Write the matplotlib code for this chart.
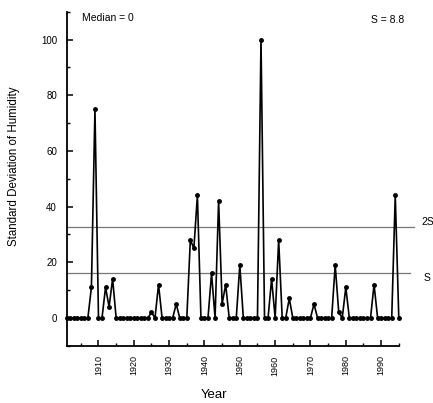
import numpy as np
import matplotlib
matplotlib.use("Agg")
import matplotlib.pyplot as plt
from matplotlib.ticker import MultipleLocator

plt.rcParams["font.family"] = ["Liberation Sans", "DejaVu Sans"]

# yearly standard deviation of humidity
years = np.arange(1901, 1996)
sd = [0, 0, 0, 0, 0, 0, 0, 11, 75, 0,          # 1901-1910
      0, 11, 4, 14, 0, 0, 0, 0, 0, 0,          # 1911-1920
      0, 0, 0, 0, 2, 0, 12, 0, 0, 0,           # 1921-1930
      0, 5, 0, 0, 0, 28, 25, 44, 0, 0,         # 1931-1940
      0, 16, 0, 42, 5, 12, 0, 0, 0, 19,        # 1941-1950
      0, 0, 0, 0, 0, 100, 0, 0, 14, 0,         # 1951-1960
      28, 0, 0, 7, 0, 0, 0, 0, 0, 0,           # 1961-1970
      5, 0, 0, 0, 0, 0, 19, 2, 0, 11,          # 1971-1980
      0, 0, 0, 0, 0, 0, 0, 12, 0, 0,           # 1981-1990
      0, 0, 0, 44, 0]                          # 1991-1995
s_line = 16.0
s2_line = 32.8
median_txt = "Median = 0"
s_txt = "S = 8.8"

fig = plt.figure(figsize=(4.33, 4.03), dpi=100)
ax = fig.add_axes([0.154, 0.142, 0.767, 0.829])

ax.plot(years, sd, color="black", lw=1.2, marker="o", ms=2.5, clip_on=False, zorder=3)

# S / 2S reference lines run a bit past the axis end
ax.plot([1901, 1998.3], [s_line, s_line], color="#777777", lw=0.9, clip_on=False)
ax.plot([1901, 1999.3], [s2_line, s2_line], color="#777777", lw=0.9, clip_on=False)
ax.text(2001.5, s2_line + 1.5, "2S", fontsize=7.5, va="center", ha="left", clip_on=False)
ax.text(2002.0, s_line - 1.8, "S", fontsize=7.5, va="center", ha="left", clip_on=False)

ax.set_xlim(1901, 1995)
ax.set_ylim(-10, 110)
ax.xaxis.set_minor_locator(MultipleLocator(5))
ax.yaxis.set_minor_locator(MultipleLocator(10))
ax.set_xticks(range(1910, 1991, 10))
ax.set_yticks(range(0, 101, 20))

for sp in ("top", "right"):
    ax.spines[sp].set_visible(False)
for sp in ("left", "bottom"):
    ax.spines[sp].set_linewidth(1.3)

ax.tick_params(which="major", direction="in", length=4, width=1.1, labelsize=7, pad=7)
ax.tick_params(which="minor", direction="in", length=2.5, width=1.0)
ax.tick_params(axis="x", which="major", labelrotation=90, labelsize=6.5)

ax.set_ylabel("Standard Deviation of Humidity", fontsize=8.3)
ax.yaxis.set_label_coords(-0.14, 0.538)
ax.set_xlabel("Year", fontsize=9.5)
ax.xaxis.set_label_coords(0.443, -0.13)

ax.text(0.045, 0.981, median_txt, transform=ax.transAxes, fontsize=7.5, va="center", ha="left")
ax.text(0.915, 0.975, s_txt, transform=ax.transAxes, fontsize=7.5, va="center", ha="left")

fig.savefig("out.png", dpi=100)
